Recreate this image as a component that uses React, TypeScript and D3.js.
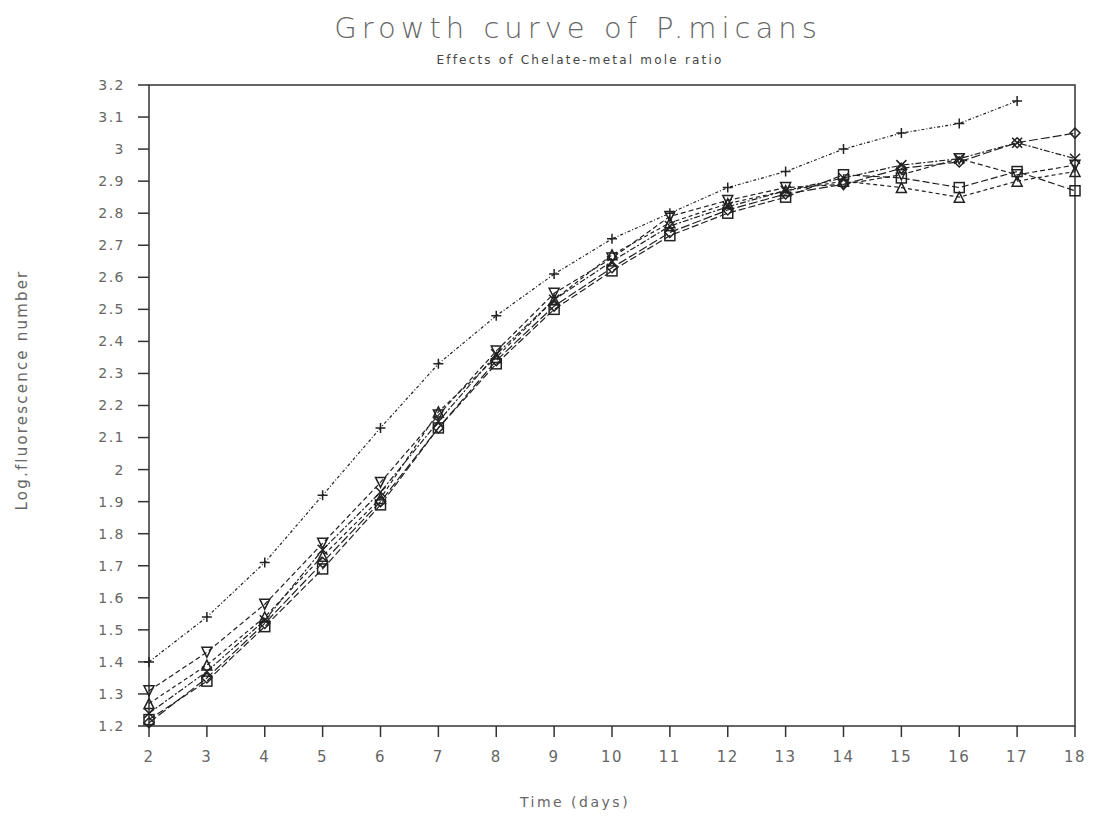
import React from "react";
import * as d3 from "d3";

const days = [2, 3, 4, 5, 6, 7, 8, 9, 10, 11, 12, 13, 14, 15, 16, 17, 18];
const yTicks = [1.2, 1.3, 1.4, 1.5, 1.6, 1.7, 1.8, 1.9, 2.0, 2.1, 2.2, 2.3, 2.4, 2.5, 2.6, 2.7, 2.8, 2.9, 3.0, 3.1, 3.2];

const seriesSquare = [1.22, 1.34, 1.51, 1.69, 1.89, 2.13, 2.33, 2.5, 2.62, 2.73, 2.8, 2.85, 2.92, 2.91, 2.88, 2.93, 2.87];
const seriesPlus = [1.4, 1.54, 1.71, 1.92, 2.13, 2.33, 2.48, 2.61, 2.72, 2.8, 2.88, 2.93, 3.0, 3.05, 3.08, 3.15];
const seriesDiamond = [1.21, 1.35, 1.52, 1.71, 1.9, 2.13, 2.34, 2.51, 2.63, 2.74, 2.81, 2.86, 2.89, 2.94, 2.96, 3.02, 3.05];
const seriesTriangle = [1.27, 1.39, 1.54, 1.73, 1.91, 2.18, 2.35, 2.53, 2.67, 2.77, 2.83, 2.87, 2.9, 2.88, 2.85, 2.9, 2.93];
const seriesCross = [1.24, 1.37, 1.53, 1.75, 1.93, 2.15, 2.36, 2.53, 2.65, 2.76, 2.82, 2.87, 2.91, 2.95, 2.97, 3.02, 2.97];
const seriesInvTriangle = [1.31, 1.43, 1.58, 1.77, 1.96, 2.17, 2.37, 2.55, 2.66, 2.79, 2.84, 2.88, 2.89, 2.92, 2.97, 2.92, 2.95];

const series = [
  { name: "A", values: seriesSquare, marker: "square", dash: "7,3" },
  { name: "B", values: seriesPlus, marker: "plus", dash: "3,2,1,2" },
  { name: "C", values: seriesDiamond, marker: "diamond", dash: "9,3" },
  { name: "D", values: seriesTriangle, marker: "triangle", dash: "4,3" },
  { name: "E", values: seriesCross, marker: "cross", dash: "6,2,2,2" },
  { name: "F", values: seriesInvTriangle, marker: "invtri", dash: "5,3" },
];

const W = 1094;
const H = 817;
const left = 149;
const right = 1075;
const top = 85;
const bottom = 726;

function Marker({ type, x, y }: { type: string; x: number; y: number }) {
  const s = 5;
  const common = { fill: "none", stroke: "#222", strokeWidth: 1.5 };
  switch (type) {
    case "square":
      return <rect x={x - s} y={y - s} width={2 * s} height={2 * s} {...common} />;
    case "plus":
      return <path d={`M${x - s},${y}H${x + s}M${x},${y - s}V${y + s}`} {...common} />;
    case "diamond":
      return <path d={`M${x},${y - s}L${x + s},${y}L${x},${y + s}L${x - s},${y}Z`} {...common} />;
    case "triangle":
      return <path d={`M${x},${y - s}L${x + s},${y + s}L${x - s},${y + s}Z`} {...common} />;
    case "cross":
      return <path d={`M${x - s},${y - s}L${x + s},${y + s}M${x - s},${y + s}L${x + s},${y - s}`} {...common} />;
    case "invtri":
      return <path d={`M${x - s},${y - s}L${x + s},${y - s}L${x},${y + s}Z`} {...common} />;
    default:
      return null;
  }
}

export default function App() {
  const x = d3.scaleLinear().domain([2, 18]).range([left, right]);
  const y = d3.scaleLinear().domain([1.2, 3.2]).range([bottom, top]);
  const line = d3
    .line<number>()
    .x((_, i) => x(days[i]))
    .y((d) => y(d));
  const font = "'DejaVu Sans', sans-serif";
  const fmt = (v: number) => (Math.abs(v - Math.round(v)) < 1e-9 ? String(Math.round(v)) : v.toFixed(1));

  return (
    <svg width={W} height={H} style={{ position: "absolute", left: 0, top: 0, background: "#fff" }} fontFamily={font}>
      <rect x={0} y={0} width={W} height={H} fill="#fff" />
      <text x={578} y={38} textAnchor="middle" fontSize={29} letterSpacing={5} fill="#666" fontWeight={200}>
        Growth curve of P.micans
      </text>
      <text x={580} y={64} textAnchor="middle" fontSize={12} letterSpacing={2.2} fill="#444">
        Effects of Chelate-metal mole ratio
      </text>

      {/* frame */}
      <rect x={left} y={top} width={right - left} height={bottom - top} fill="none" stroke="#333" strokeWidth={1.5} />

      {/* y ticks */}
      {yTicks.map((t) => (
        <g key={t}>
          <line x1={left - 11} x2={left} y1={y(t)} y2={y(t)} stroke="#333" strokeWidth={1.5} />
          <text x={125} y={y(t)} dy="0.35em" textAnchor="end" fontSize={14} letterSpacing={1.5} fill="#666">
            {fmt(t)}
          </text>
        </g>
      ))}
      {/* x ticks */}
      {days.map((d) => (
        <g key={d}>
          <line x1={x(d)} x2={x(d)} y1={bottom} y2={bottom + 11} stroke="#333" strokeWidth={1.5} />
          <text x={x(d)} y={bottom + 31} dy="0.35em" textAnchor="middle" fontSize={15} letterSpacing={1.5} fill="#666">
            {d}
          </text>
        </g>
      ))}

      <text x={575} y={802} dy="0.35em" textAnchor="middle" fontSize={14} letterSpacing={2.5} fill="#666">
        Time (days)
      </text>
      <text transform={`translate(22,390) rotate(-90)`} textAnchor="middle" dy="0.35em" fontSize={15} letterSpacing={2.2} fill="#666">
        Log.fluorescence number
      </text>

      {series.map((s) => (
        <g key={s.name}>
          <path d={line(s.values) || ""} fill="none" stroke="#222" strokeWidth={1.2} strokeDasharray={s.dash} />
          {s.values.map((v, i) => (
            <Marker key={i} type={s.marker} x={x(days[i])} y={y(v)} />
          ))}
        </g>
      ))}
    </svg>
  );
}
